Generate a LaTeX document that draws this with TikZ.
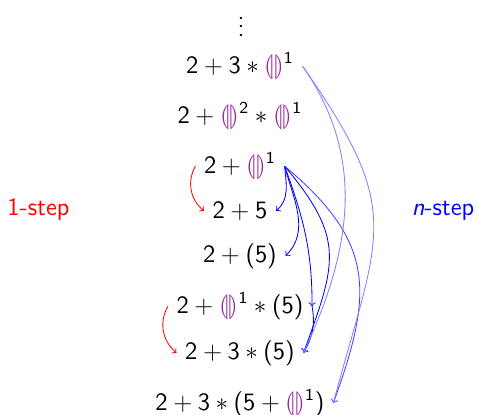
\documentclass[tikz,border=0pt]{standalone}
\usepackage{amsmath}
\usepackage{stmaryrd}
\usepackage{tikz}
\DeclareSymbolFont{operators}{OT1}{cmss}{m}{n}
\definecolor{holecolor}{RGB}{145,40,155}
\newcommand{\hole}{{\color{holecolor}\llparenthesis\rrparenthesis}}

\begin{document}
\begin{tikzpicture}[x=0.48pt, y=0.48pt, font=\fontsize{12}{14}\selectfont\sffamily]
    \tikzset{
        expr/.style={
            anchor=base, inner sep=4pt
        },
        onestep/.style={->, red},
        nstep/.style={->, blue},
        nstepfaint/.style={->, blue!50},
    }
    \useasboundingbox (0,0) rectangle (477,414);

    % ==== Terms ====
    \node[expr] (dots) at (241,378) {$\vdots$};
    \node[expr] (t1) at (240,341) {$2 + 3 * \hole^{1}$};
    \node[expr] (t2) at (240,291) {$2 + \hole^{2} * \hole^{1}$};
    \node[expr] (t3) at (240,241) {$2 + \hole^{1}$};
    \node[expr] (t4) at (240,196) {$2 + 5$};
    \node[expr] (t5) at (240,152) {$2 + (5)$};
    \node[expr] (t6) at (240,101) {$2 + \hole^{1} * (5)$};
    \node[expr] (t7) at (240,55) {$2 + 3 * (5)$};
    \node[expr] (t8) at (240,4) {$2 + 3 * (5 + \hole^{1})$};

    % ==== Side labels ====
    \node[expr, text=red] (one) at (38.5,199) {1-step};
    \node[expr, text=blue] (many) at (443,199) {\textit{n}-step};

    % ==== 1-step arrows ====
    \draw[onestep] (t3.west) to[bend right=40] (t4.west);
    \draw[onestep] (t6.west) to[bend right=40] (t7.west);

    % ==== n-step arrows ====
    \draw[nstep] (t3.east) to[out=-85, in=40] (t4.east);
    \draw[nstep] (t3.east) to[out=-75, in=45] (t5.east);
    \draw[nstep] (t3.east) to[out=-70, in=90] (t6.east);
    \draw[nstep] (t3.east) to[out=-50, in=70, looseness=1.3] (t7.east);
    \draw[nstep] (t6.east) to[out=-80, in=60] (t7.east);
    \draw[nstep, blue!75] (t3.east) to[out=-40, in=70, looseness=1.25] (t8.east);
    \draw[nstepfaint] (t1.east) to[out=-55, in=65] (t7.east);
    \draw[nstepfaint] (t1.east) to[out=-55, in=75, looseness=1.35] (t8.east);
\end{tikzpicture}
\end{document}
